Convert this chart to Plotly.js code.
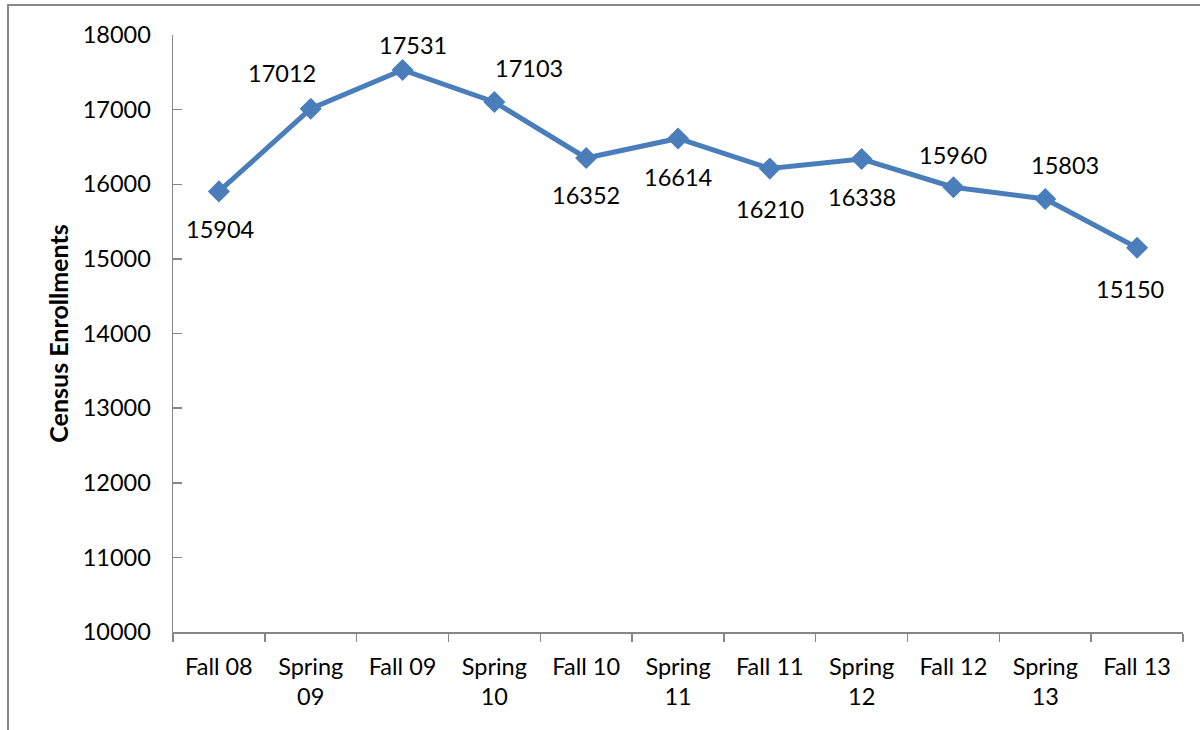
<!DOCTYPE html>
<html>
<head>
<meta charset="utf-8">
<script src="https://cdn.plot.ly/plotly-3.0.1.min.js"></script>
<style>
  html, body { margin: 0; padding: 0; background: #fff; }
  #wrap { position: relative; width: 1200px; height: 730px; overflow: hidden; }
  #chart { position: absolute; left: 0; top: 0; width: 1200px; height: 730px; }
  #frame { position: absolute; left: 7px; top: 4px; width: 1300px; height: 900px;
           border-left: 2px solid #888888; border-top: 2px solid #888888; pointer-events: none; }
</style>
</head>
<body>
<div id="wrap">
  <div id="chart"></div>
  <div id="frame"></div>
</div>
<script>
// Data
const categories = ["Fall 08", "Spring<br>09", "Fall 09", "Spring<br>10", "Fall 10", "Spring<br>11",
                    "Fall 11", "Spring<br>12", "Fall 12", "Spring<br>13", "Fall 13"];
const enrollments = [15904, 17012, 17531, 17103, 16352, 16614, 16210, 16338, 15960, 15803, 15150];
const yTickValues = [10000, 11000, 12000, 13000, 14000, 15000, 16000, 17000, 18000];

// Label offsets (pixels) relative to each point: [dx, dy(up)]
const labelOffsets = [[1, -38], [-29, 36], [10, 25], [35, 34], [0, -37], [0, -39],
                      [0, -40], [0, -38], [0, 32], [20, 34], [-7, -41]];

const FONT = "Lato, 'Liberation Sans', sans-serif";
const lineColor = "#4A7EBB";

const trace = {
  type: "scatter",
  mode: "lines+markers",
  x: categories,
  y: enrollments,
  line: { color: lineColor, width: 5 },
  marker: { symbol: "diamond", size: 17, color: lineColor },
  hoverinfo: "x+y"
};

const annotations = enrollments.map((v, i) => ({
  x: categories[i], y: v, xref: "x", yref: "y",
  text: String(v), showarrow: false,
  xanchor: "center", yanchor: "middle",
  xshift: labelOffsets[i][0], yshift: labelOffsets[i][1],
  font: { family: FONT, size: 23.5, color: "#000" }
}));

const layout = {
  width: 1200, height: 730,
  margin: { l: 173, r: 17, t: 35, b: 98 },
  paper_bgcolor: "#ffffff",
  plot_bgcolor: "#ffffff",
  showlegend: false,
  font: { family: FONT, size: 23.5, color: "#000" },
  xaxis: {
    type: "category",
    range: [-0.5, categories.length - 0.5],
    showgrid: false, zeroline: false,
    showline: true, linecolor: "#868686", linewidth: 1.5,
    ticks: "outside", tickson: "boundaries", ticklen: 8, tickcolor: "#868686", tickwidth: 1.5,
    ticklabelstandoff: 13,
    tickfont: { family: FONT, size: 23.5, color: "#000" },
    tickangle: 0
  },
  yaxis: {
    range: [10000, 18000],
    tickvals: yTickValues,
    ticktext: yTickValues.map(String),
    showgrid: false, zeroline: false,
    showline: true, linecolor: "#868686", linewidth: 1.5,
    ticks: "inside", ticklen: 9, tickcolor: "#868686", tickwidth: 1.5,
    ticklabelstandoff: 16,
    tickfont: { family: FONT, size: 23.5, color: "#000" },
    title: { text: "<b>Census Enrollments</b>", font: { family: FONT, size: 25, color: "#000" }, standoff: 7 }
  },
  annotations: annotations
};

Plotly.newPlot("chart", [trace], layout, { displayModeBar: false, staticPlot: true });
</script>
</body>
</html>
